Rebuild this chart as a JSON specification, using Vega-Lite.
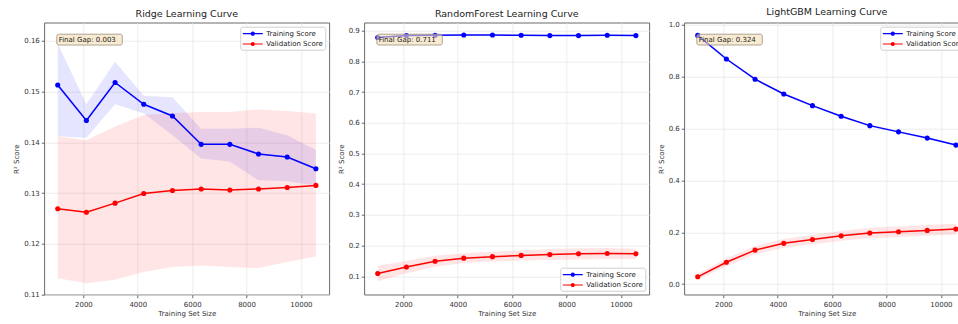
{
  "$schema": "https://vega.github.io/schema/vega-lite/v6.json",
  "autosize": {"type": "none"},
  "padding": {"left": 44.3, "top": 22.7, "right": 913.7, "bottom": 301.3},
  "background": "white",
  "config": {
    "font": "DejaVu Sans",
    "view": {"stroke": "#444444", "strokeWidth": 0.8},
    "axis": {
      "labelFont": "DejaVu Sans", "titleFont": "DejaVu Sans",
      "labelFontSize": 7, "titleFontSize": 7, "titleFontWeight": "normal",
      "labelColor": "#333333", "titleColor": "#333333",
      "gridColor": "#e8e8e8", "gridWidth": 0.8,
      "domain": false, "tickColor": "#444444", "tickSize": 3, "tickWidth": 0.8,
      "labelPadding": 2, "labelOverlap": false, "tickCount": 20
    },
    "axisX": {"titlePadding": 2, "labelPadding": 3},
    "axisY": {"titlePadding": 4},
    "title": {"font": "DejaVu Sans", "fontSize": 9.5, "fontWeight": "normal", "color": "#222222", "offset": 4},
    "legend": {
      "labelFont": "DejaVu Sans", "labelFontSize": 7, "labelColor": "#222222",
      "symbolType": "M-2.222,-0.133H2.222V0.133H-2.222Z M0.467,0A0.467,0.467,0,1,1,-0.467,0A0.467,0.467,0,1,1,0.467,0Z",
      "symbolSize": 81, "symbolStrokeWidth": 0, "symbolOffset": 5.5, "labelOffset": 9,
      "rowPadding": 2.3, "padding": 2.5, "offset": 4,
      "fillColor": "rgba(255,255,255,0.85)", "strokeColor": "#d0d0d0", "cornerRadius": 2
    }
  },
  "datasets": {
    "curves": [
      {"model": "Ridge", "series": "Training Score", "x": 1055, "mean": 0.1513, "lo": 0.1412, "hi": 0.1595},
      {"model": "Ridge", "series": "Training Score", "x": 2110, "mean": 0.1443, "lo": 0.1409, "hi": 0.1475},
      {"model": "Ridge", "series": "Training Score", "x": 3165, "mean": 0.1518, "lo": 0.1475, "hi": 0.1559},
      {"model": "Ridge", "series": "Training Score", "x": 4220, "mean": 0.1475, "lo": 0.1457, "hi": 0.1492},
      {"model": "Ridge", "series": "Training Score", "x": 5275, "mean": 0.1452, "lo": 0.1414, "hi": 0.1489},
      {"model": "Ridge", "series": "Training Score", "x": 6330, "mean": 0.1396, "lo": 0.1368, "hi": 0.1427},
      {"model": "Ridge", "series": "Training Score", "x": 7385, "mean": 0.1396, "lo": 0.1362, "hi": 0.1427},
      {"model": "Ridge", "series": "Training Score", "x": 8440, "mean": 0.1377, "lo": 0.1325, "hi": 0.1429},
      {"model": "Ridge", "series": "Training Score", "x": 9495, "mean": 0.1371, "lo": 0.1323, "hi": 0.1414},
      {"model": "Ridge", "series": "Training Score", "x": 10550, "mean": 0.1348, "lo": 0.1315, "hi": 0.1385},
      {"model": "Ridge", "series": "Validation Score", "x": 1055, "mean": 0.1269, "lo": 0.1132, "hi": 0.1412},
      {"model": "Ridge", "series": "Validation Score", "x": 2110, "mean": 0.1262, "lo": 0.1122, "hi": 0.1404},
      {"model": "Ridge", "series": "Validation Score", "x": 3165, "mean": 0.1280, "lo": 0.1129, "hi": 0.1431},
      {"model": "Ridge", "series": "Validation Score", "x": 4220, "mean": 0.1299, "lo": 0.1144, "hi": 0.1454},
      {"model": "Ridge", "series": "Validation Score", "x": 5275, "mean": 0.1305, "lo": 0.1154, "hi": 0.1458},
      {"model": "Ridge", "series": "Validation Score", "x": 6330, "mean": 0.1308, "lo": 0.1157, "hi": 0.1460},
      {"model": "Ridge", "series": "Validation Score", "x": 7385, "mean": 0.1306, "lo": 0.1154, "hi": 0.1460},
      {"model": "Ridge", "series": "Validation Score", "x": 8440, "mean": 0.1308, "lo": 0.1152, "hi": 0.1465},
      {"model": "Ridge", "series": "Validation Score", "x": 9495, "mean": 0.1311, "lo": 0.1164, "hi": 0.1462},
      {"model": "Ridge", "series": "Validation Score", "x": 10550, "mean": 0.1315, "lo": 0.1175, "hi": 0.1457},
      {"model": "RandomForest", "series": "Training Score", "x": 1055, "mean": 0.878, "lo": 0.876, "hi": 0.880},
      {"model": "RandomForest", "series": "Training Score", "x": 2110, "mean": 0.884, "lo": 0.882, "hi": 0.886},
      {"model": "RandomForest", "series": "Training Score", "x": 3165, "mean": 0.885, "lo": 0.883, "hi": 0.887},
      {"model": "RandomForest", "series": "Training Score", "x": 4220, "mean": 0.886, "lo": 0.884, "hi": 0.888},
      {"model": "RandomForest", "series": "Training Score", "x": 5275, "mean": 0.886, "lo": 0.884, "hi": 0.888},
      {"model": "RandomForest", "series": "Training Score", "x": 6330, "mean": 0.885, "lo": 0.883, "hi": 0.887},
      {"model": "RandomForest", "series": "Training Score", "x": 7385, "mean": 0.884, "lo": 0.882, "hi": 0.886},
      {"model": "RandomForest", "series": "Training Score", "x": 8440, "mean": 0.884, "lo": 0.882, "hi": 0.886},
      {"model": "RandomForest", "series": "Training Score", "x": 9495, "mean": 0.885, "lo": 0.883, "hi": 0.887},
      {"model": "RandomForest", "series": "Training Score", "x": 10550, "mean": 0.884, "lo": 0.882, "hi": 0.886},
      {"model": "RandomForest", "series": "Validation Score", "x": 1055, "mean": 0.109, "lo": 0.084, "hi": 0.134},
      {"model": "RandomForest", "series": "Validation Score", "x": 2110, "mean": 0.130, "lo": 0.110, "hi": 0.150},
      {"model": "RandomForest", "series": "Validation Score", "x": 3165, "mean": 0.149, "lo": 0.131, "hi": 0.167},
      {"model": "RandomForest", "series": "Validation Score", "x": 4220, "mean": 0.159, "lo": 0.143, "hi": 0.175},
      {"model": "RandomForest", "series": "Validation Score", "x": 5275, "mean": 0.164, "lo": 0.148, "hi": 0.180},
      {"model": "RandomForest", "series": "Validation Score", "x": 6330, "mean": 0.168, "lo": 0.151, "hi": 0.185},
      {"model": "RandomForest", "series": "Validation Score", "x": 7385, "mean": 0.171, "lo": 0.153, "hi": 0.189},
      {"model": "RandomForest", "series": "Validation Score", "x": 8440, "mean": 0.173, "lo": 0.155, "hi": 0.191},
      {"model": "RandomForest", "series": "Validation Score", "x": 9495, "mean": 0.174, "lo": 0.156, "hi": 0.192},
      {"model": "RandomForest", "series": "Validation Score", "x": 10550, "mean": 0.173, "lo": 0.156, "hi": 0.190},
      {"model": "LightGBM", "series": "Training Score", "x": 1055, "mean": 0.959, "lo": 0.955, "hi": 0.963},
      {"model": "LightGBM", "series": "Training Score", "x": 2110, "mean": 0.868, "lo": 0.864, "hi": 0.872},
      {"model": "LightGBM", "series": "Training Score", "x": 3165, "mean": 0.790, "lo": 0.786, "hi": 0.794},
      {"model": "LightGBM", "series": "Training Score", "x": 4220, "mean": 0.733, "lo": 0.729, "hi": 0.737},
      {"model": "LightGBM", "series": "Training Score", "x": 5275, "mean": 0.688, "lo": 0.684, "hi": 0.692},
      {"model": "LightGBM", "series": "Training Score", "x": 6330, "mean": 0.647, "lo": 0.643, "hi": 0.651},
      {"model": "LightGBM", "series": "Training Score", "x": 7385, "mean": 0.611, "lo": 0.607, "hi": 0.615},
      {"model": "LightGBM", "series": "Training Score", "x": 8440, "mean": 0.587, "lo": 0.583, "hi": 0.591},
      {"model": "LightGBM", "series": "Training Score", "x": 9495, "mean": 0.563, "lo": 0.559, "hi": 0.567},
      {"model": "LightGBM", "series": "Training Score", "x": 10550, "mean": 0.536, "lo": 0.532, "hi": 0.540},
      {"model": "LightGBM", "series": "Validation Score", "x": 1055, "mean": 0.028, "lo": 0.016, "hi": 0.040},
      {"model": "LightGBM", "series": "Validation Score", "x": 2110, "mean": 0.084, "lo": 0.069, "hi": 0.099},
      {"model": "LightGBM", "series": "Validation Score", "x": 3165, "mean": 0.131, "lo": 0.115, "hi": 0.147},
      {"model": "LightGBM", "series": "Validation Score", "x": 4220, "mean": 0.157, "lo": 0.140, "hi": 0.174},
      {"model": "LightGBM", "series": "Validation Score", "x": 5275, "mean": 0.172, "lo": 0.154, "hi": 0.190},
      {"model": "LightGBM", "series": "Validation Score", "x": 6330, "mean": 0.186, "lo": 0.167, "hi": 0.205},
      {"model": "LightGBM", "series": "Validation Score", "x": 7385, "mean": 0.197, "lo": 0.177, "hi": 0.217},
      {"model": "LightGBM", "series": "Validation Score", "x": 8440, "mean": 0.202, "lo": 0.182, "hi": 0.222},
      {"model": "LightGBM", "series": "Validation Score", "x": 9495, "mean": 0.207, "lo": 0.186, "hi": 0.228},
      {"model": "LightGBM", "series": "Validation Score", "x": 10550, "mean": 0.212, "lo": 0.191, "hi": 0.233}
    ],
    "gaps": [
      {"model": "Ridge", "label": "Final Gap: 0.003"},
      {"model": "RandomForest", "label": "Final Gap: 0.711"},
      {"model": "LightGBM", "label": "Final Gap: 0.324"}
    ]
  },
  "spacing": 35,
  "bounds": "flush",
  "resolve": {"scale": {"x": "independent", "y": "independent", "color": "independent"}, "legend": {"color": "independent"}},
  "hconcat": [
    {
      "width": 285, "height": 272,
      "title": "Ridge Learning Curve",
      "layer": [
        {
          "data": {"name": "curves"}, "transform": [{"filter": "datum.model === 'Ridge'"}],
          "mark": {"type": "area", "fillOpacity": 0.1},
          "encoding": {
            "x": {"field": "x", "type": "quantitative", "scale": {"domain": [562, 11043], "nice": false, "zero": false}, "axis": {"values": [2000, 4000, 6000, 8000, 10000], "format": "d", "title": "Training Set Size"}},
            "y": {"field": "lo", "type": "quantitative", "scale": {"domain": [0.10994, 0.1636], "nice": false, "zero": false}, "axis": {"values": [0.11, 0.12, 0.13, 0.14, 0.15, 0.16], "format": ".2f", "title": "R² Score"}},
            "y2": {"field": "hi"},
            "color": {"field": "series", "type": "nominal", "scale": {"domain": ["Training Score", "Validation Score"], "range": ["#0000ff", "#ff0000"]}, "legend": {"orient": "top-right", "title": null}}
          }
        },
        {
          "data": {"name": "curves"}, "transform": [{"filter": "datum.model === 'Ridge'"}],
          "mark": {"type": "line", "strokeWidth": 1.5},
          "encoding": {
            "x": {"field": "x", "type": "quantitative"},
            "y": {"field": "mean", "type": "quantitative"},
            "color": {"field": "series", "type": "nominal", "legend": {"orient": "top-right", "title": null}}
          }
        },
        {
          "data": {"name": "curves"}, "transform": [{"filter": "datum.model === 'Ridge'"}],
          "mark": {"type": "point", "filled": true, "size": 26, "opacity": 1},
          "encoding": {
            "x": {"field": "x", "type": "quantitative"},
            "y": {"field": "mean", "type": "quantitative"},
            "color": {"field": "series", "type": "nominal", "legend": {"orient": "top-right", "title": null}}
          }
        },
        {
          "data": {"name": "gaps"}, "transform": [{"filter": "datum.model === 'Ridge'"}],
          "mark": {"type": "rect", "fill": "#f5deb3", "fillOpacity": 0.6, "stroke": "#9a8f7a", "strokeWidth": 0.8, "cornerRadius": 2},
          "encoding": {
            "x": {"datum": 1022, "type": "quantitative"}, "x2": {"datum": 3430},
            "y": {"datum": 0.16133, "type": "quantitative"}, "y2": {"datum": 0.15919}
          }
        },
        {
          "data": {"name": "gaps"}, "transform": [{"filter": "datum.model === 'Ridge'"}],
          "mark": {"type": "text", "align": "left", "baseline": "middle", "fontSize": 7, "color": "#222222"},
          "encoding": {
            "x": {"datum": 1090, "type": "quantitative"},
            "y": {"datum": 0.16024, "type": "quantitative"},
            "text": {"field": "label"}
          }
        }
      ]
    },
    {
      "width": 285, "height": 272,
      "title": "RandomForest Learning Curve",
      "layer": [
        {
          "data": {"name": "curves"}, "transform": [{"filter": "datum.model === 'RandomForest'"}],
          "mark": {"type": "area", "fillOpacity": 0.1},
          "encoding": {
            "x": {"field": "x", "type": "quantitative", "scale": {"domain": [562, 11043], "nice": false, "zero": false}, "axis": {"values": [2000, 4000, 6000, 8000, 10000], "format": "d", "title": "Training Set Size"}},
            "y": {"field": "lo", "type": "quantitative", "scale": {"domain": [0.040, 0.926], "nice": false, "zero": false}, "axis": {"values": [0.1, 0.2, 0.3, 0.4, 0.5, 0.6, 0.7, 0.8, 0.9], "format": ".1f", "title": "R² Score", "tickCount": 20}},
            "y2": {"field": "hi"},
            "color": {"field": "series", "type": "nominal", "scale": {"domain": ["Training Score", "Validation Score"], "range": ["#0000ff", "#ff0000"]}, "legend": {"orient": "bottom-right", "title": null}}
          }
        },
        {
          "data": {"name": "curves"}, "transform": [{"filter": "datum.model === 'RandomForest'"}],
          "mark": {"type": "line", "strokeWidth": 1.5},
          "encoding": {
            "x": {"field": "x", "type": "quantitative"},
            "y": {"field": "mean", "type": "quantitative"},
            "color": {"field": "series", "type": "nominal", "legend": {"orient": "bottom-right", "title": null}}
          }
        },
        {
          "data": {"name": "curves"}, "transform": [{"filter": "datum.model === 'RandomForest'"}],
          "mark": {"type": "point", "filled": true, "size": 26, "opacity": 1},
          "encoding": {
            "x": {"field": "x", "type": "quantitative"},
            "y": {"field": "mean", "type": "quantitative"},
            "color": {"field": "series", "type": "nominal", "legend": {"orient": "bottom-right", "title": null}}
          }
        },
        {
          "data": {"name": "gaps"}, "transform": [{"filter": "datum.model === 'RandomForest'"}],
          "mark": {"type": "rect", "fill": "#f5deb3", "fillOpacity": 0.6, "stroke": "#9a8f7a", "strokeWidth": 0.8, "cornerRadius": 2},
          "encoding": {
            "x": {"datum": 1022, "type": "quantitative"}, "x2": {"datum": 3430},
            "y": {"datum": 0.88854, "type": "quantitative"}, "y2": {"datum": 0.85336}
          }
        },
        {
          "data": {"name": "gaps"}, "transform": [{"filter": "datum.model === 'RandomForest'"}],
          "mark": {"type": "text", "align": "left", "baseline": "middle", "fontSize": 7, "color": "#222222"},
          "encoding": {
            "x": {"datum": 1090, "type": "quantitative"},
            "y": {"datum": 0.87063, "type": "quantitative"},
            "text": {"field": "label"}
          }
        }
      ]
    },
    {
      "width": 285, "height": 272,
      "title": "LightGBM Learning Curve",
      "layer": [
        {
          "data": {"name": "curves"}, "transform": [{"filter": "datum.model === 'LightGBM'"}],
          "mark": {"type": "area", "fillOpacity": 0.1},
          "encoding": {
            "x": {"field": "x", "type": "quantitative", "scale": {"domain": [562, 11043], "nice": false, "zero": false}, "axis": {"values": [2000, 4000, 6000, 8000, 10000], "format": "d", "title": "Training Set Size"}},
            "y": {"field": "lo", "type": "quantitative", "scale": {"domain": [-0.041, 1.008], "nice": false, "zero": false}, "axis": {"values": [0, 0.2, 0.4, 0.6, 0.8, 1.0], "format": ".1f", "title": "R² Score"}},
            "y2": {"field": "hi"},
            "color": {"field": "series", "type": "nominal", "scale": {"domain": ["Training Score", "Validation Score"], "range": ["#0000ff", "#ff0000"]}, "legend": {"orient": "top-right", "title": null}}
          }
        },
        {
          "data": {"name": "curves"}, "transform": [{"filter": "datum.model === 'LightGBM'"}],
          "mark": {"type": "line", "strokeWidth": 1.5},
          "encoding": {
            "x": {"field": "x", "type": "quantitative"},
            "y": {"field": "mean", "type": "quantitative"},
            "color": {"field": "series", "type": "nominal", "legend": {"orient": "top-right", "title": null}}
          }
        },
        {
          "data": {"name": "curves"}, "transform": [{"filter": "datum.model === 'LightGBM'"}],
          "mark": {"type": "point", "filled": true, "size": 26, "opacity": 1},
          "encoding": {
            "x": {"field": "x", "type": "quantitative"},
            "y": {"field": "mean", "type": "quantitative"},
            "color": {"field": "series", "type": "nominal", "legend": {"orient": "top-right", "title": null}}
          }
        },
        {
          "data": {"name": "gaps"}, "transform": [{"filter": "datum.model === 'LightGBM'"}],
          "mark": {"type": "rect", "fill": "#f5deb3", "fillOpacity": 0.6, "stroke": "#9a8f7a", "strokeWidth": 0.8, "cornerRadius": 2},
          "encoding": {
            "x": {"datum": 1022, "type": "quantitative"}, "x2": {"datum": 3430},
            "y": {"datum": 0.9636, "type": "quantitative"}, "y2": {"datum": 0.922}
          }
        },
        {
          "data": {"name": "gaps"}, "transform": [{"filter": "datum.model === 'LightGBM'"}],
          "mark": {"type": "text", "align": "left", "baseline": "middle", "fontSize": 7, "color": "#222222"},
          "encoding": {
            "x": {"datum": 1090, "type": "quantitative"},
            "y": {"datum": 0.9424, "type": "quantitative"},
            "text": {"field": "label"}
          }
        }
      ]
    }
  ]
}
